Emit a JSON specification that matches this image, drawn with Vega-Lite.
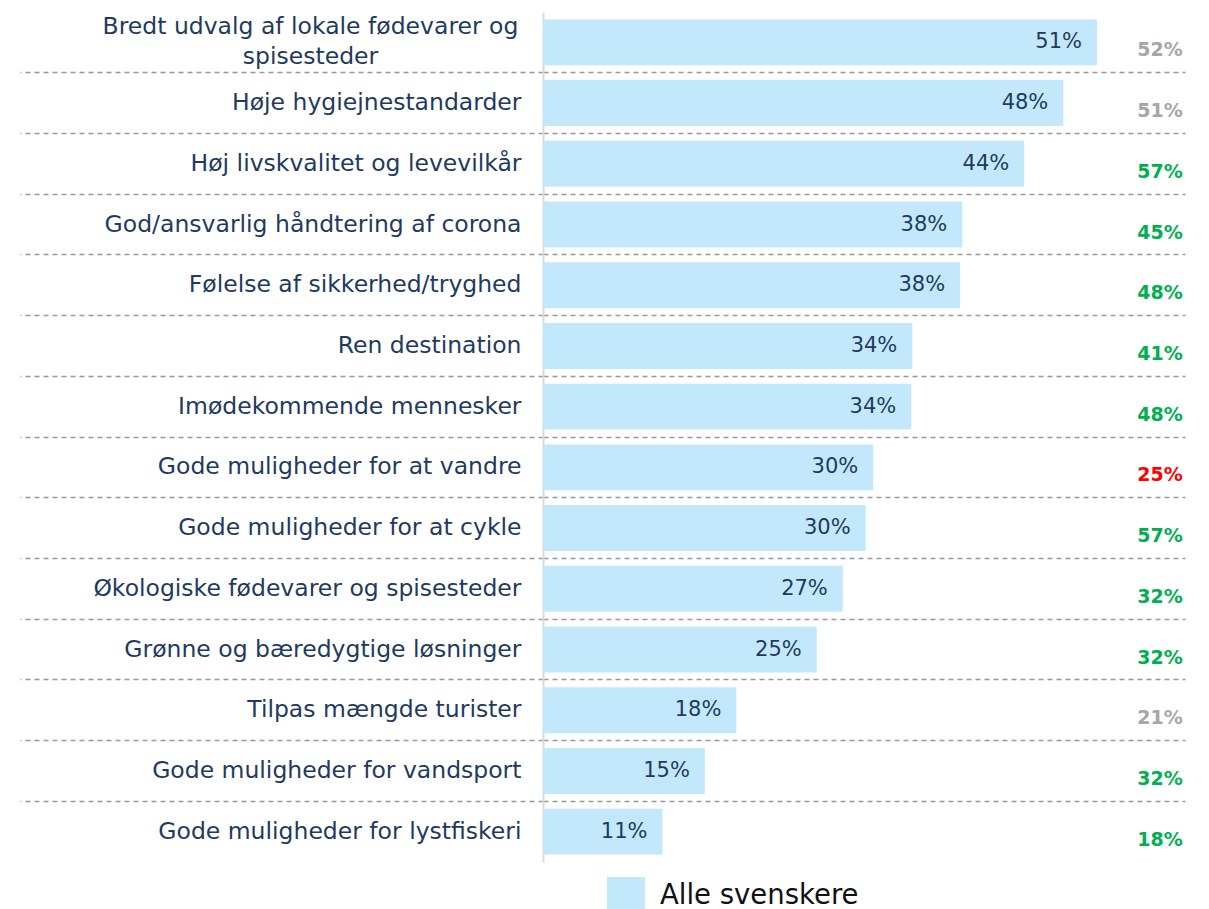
{
  "$schema": "https://vega.github.io/schema/vega-lite/v6.json",
  "width": 642,
  "height": 850,
  "autosize": {"type": "none"},
  "padding": {"left": 543, "top": 12, "right": 24, "bottom": 47},
  "background": "white",
  "config": {"view": {"stroke": null}, "font": "DejaVu Sans"},
  "data": {
    "values": [
      {"cat": "Bredt udvalg af lokale fødevarer og spisesteder", "v": 51.0, "pct": "51%", "cmp": "52%", "diff": "ns", "series": "Alle svenskere"},
      {"cat": "Høje hygiejnestandarder", "v": 47.9, "pct": "48%", "cmp": "51%", "diff": "ns", "series": "Alle svenskere"},
      {"cat": "Høj livskvalitet og levevilkår", "v": 44.3, "pct": "44%", "cmp": "57%", "diff": "up", "series": "Alle svenskere"},
      {"cat": "God/ansvarlig håndtering af corona", "v": 38.6, "pct": "38%", "cmp": "45%", "diff": "up", "series": "Alle svenskere"},
      {"cat": "Følelse af sikkerhed/tryghed", "v": 38.4, "pct": "38%", "cmp": "48%", "diff": "up", "series": "Alle svenskere"},
      {"cat": "Ren destination", "v": 34.0, "pct": "34%", "cmp": "41%", "diff": "up", "series": "Alle svenskere"},
      {"cat": "Imødekommende mennesker", "v": 33.9, "pct": "34%", "cmp": "48%", "diff": "up", "series": "Alle svenskere"},
      {"cat": "Gode muligheder for at vandre", "v": 30.4, "pct": "30%", "cmp": "25%", "diff": "down", "series": "Alle svenskere"},
      {"cat": "Gode muligheder for at cykle", "v": 29.7, "pct": "30%", "cmp": "57%", "diff": "up", "series": "Alle svenskere"},
      {"cat": "Økologiske fødevarer og spisesteder", "v": 27.6, "pct": "27%", "cmp": "32%", "diff": "up", "series": "Alle svenskere"},
      {"cat": "Grønne og bæredygtige løsninger", "v": 25.2, "pct": "25%", "cmp": "32%", "diff": "up", "series": "Alle svenskere"},
      {"cat": "Tilpas mængde turister", "v": 17.8, "pct": "18%", "cmp": "21%", "diff": "ns", "series": "Alle svenskere"},
      {"cat": "Gode muligheder for vandsport", "v": 14.9, "pct": "15%", "cmp": "32%", "diff": "up", "series": "Alle svenskere"},
      {"cat": "Gode muligheder for lystfiskeri", "v": 11.0, "pct": "11%", "cmp": "18%", "diff": "up", "series": "Alle svenskere"}
    ]
  },
  "encoding": {
    "y": {
      "field": "cat",
      "type": "nominal",
      "sort": null,
      "title": null,
      "scale": {"paddingInner": 0, "paddingOuter": 0},
      "axis": {
        "bandPosition": 0,
        "tickExtra": false,
        "ticks": true,
        "tickSize": 523,
        "tickDash": [5, 4],
        "tickWidth": 1.5,
        "tickColor": "#999999",
        "tickOpacity": {"condition": {"test": "datum.value === 'Bredt udvalg af lokale fødevarer og spisesteder'", "value": 0}, "value": 1},
        "grid": true,
        "gridDash": [5, 4],
        "gridWidth": 1.5,
        "gridColor": "#999999",
        "gridOpacity": {"condition": {"test": "datum.value === 'Bredt udvalg af lokale fødevarer og spisesteder'", "value": 0}, "value": 1},
        "domain": true,
        "domainColor": "#d9d9d9",
        "domainWidth": 2,
        "labelFont": "DejaVu Sans",
        "labelFontSize": 23.5,
        "labelColor": "#1f3a60",
        "labelLimit": 700,
        "labelBaseline": "middle",
        "labelLineHeight": 30,
        "labelOffset": {"condition": {"test": "datum.value === 'Bredt udvalg af lokale fødevarer og spisesteder'", "value": -15}, "value": 0},
        "labelAlign": {"condition": {"test": "datum.value === 'Bredt udvalg af lokale fødevarer og spisesteder'", "value": "center"}, "value": "right"},
        "labelPadding": {"condition": {"test": "datum.value === 'Bredt udvalg af lokale fødevarer og spisesteder'", "value": -290}, "value": -501},
        "labelExpr": "datum.value === 'Bredt udvalg af lokale fødevarer og spisesteder' ? ['Bredt udvalg af lokale fødevarer og', 'spisesteder'] : datum.label"
      }
    }
  },
  "layer": [
    {
      "mark": {"type": "bar", "height": {"band": 0.757}},
      "encoding": {
        "x": {"field": "v", "type": "quantitative", "scale": {"domain": [0, 59.1], "nice": false}, "axis": null},
        "color": {
          "field": "series",
          "type": "nominal",
          "scale": {"range": ["#c4e8fb"]},
          "legend": {
            "title": null,
            "orient": "none",
            "legendX": 64,
            "legendY": 865,
            "padding": 0,
            "symbolType": "square",
            "symbolSize": 1444,
            "symbolStrokeWidth": 0,
            "labelFont": "DejaVu Sans",
            "labelFontSize": 27.5,
            "labelColor": "#111111",
            "labelLimit": 500,
            "labelOffset": 15
          }
        }
      }
    },
    {
      "mark": {"type": "text", "align": "right", "baseline": "middle", "dx": -15, "fontSize": 21, "font": "DejaVu Sans", "color": "#1f3a60"},
      "encoding": {
        "x": {"field": "v", "type": "quantitative"},
        "text": {"field": "pct"}
      }
    },
    {
      "mark": {"type": "text", "align": "center", "baseline": "middle", "dy": 8, "fontSize": 19, "fontWeight": "bold", "font": "DejaVu Sans"},
      "encoding": {
        "x": {"datum": 56.8},
        "text": {"field": "cmp"},
        "color": {
          "field": "diff",
          "type": "nominal",
          "scale": {"domain": ["ns", "up", "down"], "range": ["#a6a6a6", "#00b050", "#ff0000"]},
          "legend": null
        }
      }
    }
  ],
  "resolve": {"scale": {"color": "independent"}}
}
